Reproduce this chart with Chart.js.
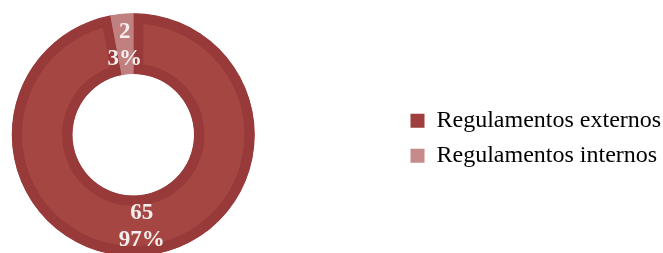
<!DOCTYPE html>
<html>
<head>
<meta charset="utf-8">
<title>Regulamentos</title>
<script src="https://cdn.jsdelivr.net/npm/chart.js@4/dist/chart.umd.min.js"></script>
<style>
    html, body { margin: 0; padding: 0; background: #ffffff; overflow: hidden; width: 663px; height: 253px; }
    /* canvas is a bit bigger than the window: ring sits to the left and runs off the bottom */
    #wrap { position: absolute; left: -133px; top: 0; width: 796px; height: 257px; }
</style>
</head>
<body>
<div id="wrap">
    <canvas id="myChart"></canvas>
</div>
<script>
// data
let categories = ["Regulamentos externos", "Regulamentos internos"];
let values = [65, 2];

let sliceColors = ["#a64642", "#c18080"];
let bevelColors = ["#983a3a", "#c18080"]; // darker ring on the big slice
let legendColors = ["#9e3e3d", "#c68a8a"];

// draws the "65 / 97%" labels on each slice
const sliceLabels = {
    id: "sliceLabels",
    afterDatasetsDraw(chart) {
        const ctx = chart.ctx;
        const meta = chart.getDatasetMeta(0);
        const total = values.reduce((a, b) => a + b, 0);
        ctx.save();
        ctx.fillStyle = "#f5eeee";
        ctx.font = "bold 23px 'Liberation Serif', 'Times New Roman', serif";
        ctx.textAlign = "center";
        ctx.textBaseline = "middle";
        meta.data.forEach((arc, i) => {
            let pos = arc.tooltipPosition();
            let pct = Math.round(values[i] / total * 100) + "%";
            ctx.fillText(String(values[i]), pos.x, pos.y - 12);
            ctx.fillText(pct, pos.x, pos.y + 15);
        });
        ctx.restore();
    }
};

new Chart(document.getElementById("myChart"), {
    type: "doughnut",
    data: {
        labels: categories,
        datasets: [{
            data: values,
            backgroundColor: sliceColors,
            borderColor: bevelColors,
            borderWidth: 10,
            borderAlign: "inner",
            radius: 121.5,
            cutout: "50%"
        }]
    },
    options: {
        responsive: true,
        maintainAspectRatio: false,
        animation: false,
        events: [],
        layout: { padding: { left: 0, right: 0, top: 12.5, bottom: 0 } },
        plugins: {
            tooltip: { enabled: false },
            legend: {
                position: "right",
                maxWidth: 263.5,
                title: { display: true, text: "", font: { size: 7, lineHeight: 1 }, padding: 0 },
                labels: {
                    boxWidth: 14,
                    boxHeight: 14,
                    padding: 11,
                    color: "#000000",
                    font: { family: "'Liberation Serif', 'Times New Roman', serif", size: 24 },
                    generateLabels(chart) {
                        let items = Chart.overrides.doughnut.plugins.legend.labels.generateLabels(chart);
                        items.forEach((it, i) => {
                            it.fillStyle = legendColors[i];
                            it.strokeStyle = legendColors[i];
                            it.lineWidth = 0;
                        });
                        return items;
                    }
                }
            }
        }
    },
    plugins: [sliceLabels]
});
</script>
</body>
</html>
